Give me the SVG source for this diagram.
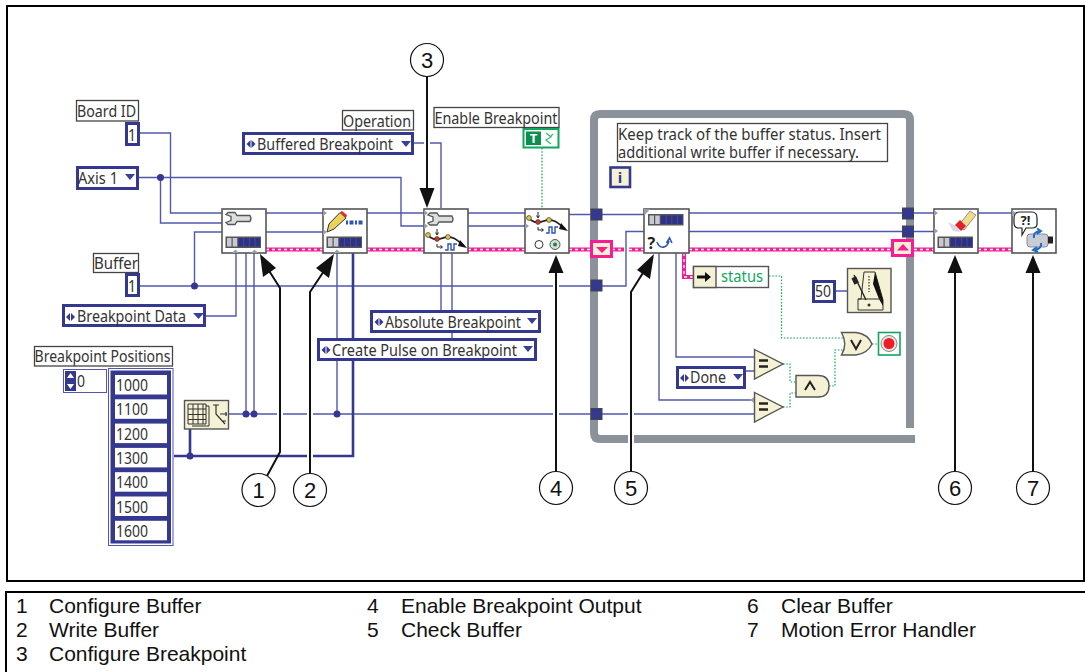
<svg xmlns="http://www.w3.org/2000/svg" xmlns:xlink="http://www.w3.org/1999/xlink" width="1085" height="672" viewBox="0 0 1085 672">
<style>
text{font-family:"Noto Sans","DejaVu Sans",sans-serif;fill:#333}
.lg{font-family:"Liberation Sans",Arial,sans-serif;font-size:21px;fill:#111}
.cn{font-family:"Liberation Sans",Arial,sans-serif;font-size:22px;fill:#111;text-anchor:middle}
.w{fill:none;stroke:#5158ac;stroke-width:1.4}
.t{fill:none;stroke:#34398f;stroke-width:2.6}
.p{fill:none;stroke:#f51c98;stroke-width:4}
.pd{fill:none;stroke:#fff;stroke-width:1.3;stroke-dasharray:3 3}
.g{fill:none;stroke:#12a860;stroke-width:1.2;stroke-dasharray:1.6 1.6}
.h{fill:none;stroke:#fff;stroke-width:6}
.a{fill:none;stroke:#111;stroke-width:2}
.ah{fill:#111}
.lb{fill:#fff;stroke:#444;stroke-width:1.3}
.en{fill:#fff;stroke:#34398f;stroke-width:3}
.n{fill:#fff;stroke:#555;stroke-width:1.6}
.c{fill:#f4f1d4;stroke:#555;stroke-width:1.4}
.jn{fill:#34398f}
.tn{fill:#34398f;stroke:#444;stroke-width:1}
.ci{fill:#fff;stroke:#111;stroke-width:1.2}
.tm{fill:#9a9da5}
.ed{fill:#3a3f9a}
.s{font-size:16px}
</style>
<defs>
<g id="bar"><rect x="0" y="0" width="35.500" height="11.500" fill="#555"/><rect x="1.500" y="1.500" width="4.500" height="8.500" fill="#c8cad0"/><rect x="7.200" y="1.500" width="4.500" height="8.500" fill="#c8cad0"/><rect x="12.900" y="1.500" width="4.800" height="8.500" fill="#2c3190"/><rect x="18.600" y="1.500" width="4.800" height="8.500" fill="#2c3190"/><rect x="24.300" y="1.500" width="4.800" height="8.500" fill="#2c3190"/><rect x="30" y="1.500" width="4.500" height="8.500" fill="#2c3190"/></g>
<g id="wrench"><path d="M3 0H10L12 3H25Q27 6 25 9H12L10 12H3L1 10L6 8V4L1 2Z" fill="#dcdde0" stroke="#555" stroke-width="1.300"/></g>
<g id="path"><path d="M1 2C7 10 14 7 20 5C28 4 32 9 38 14" fill="none" stroke="#222" stroke-width="1.800"/><path d="M34 8L41 16L32 14Z" fill="#111"/><circle cx="2" cy="3" r="2.400" fill="#e8c93c" stroke="#333" stroke-width=".7"/><circle cx="11" cy="7" r="2.400" fill="#d8342c" stroke="#333" stroke-width=".7"/><circle cx="22" cy="5" r="2.400" fill="#e8c93c" stroke="#333" stroke-width=".7"/><path d="M11 -3V2M9.500 0.500L11 3L12.500 0.500" fill="none" stroke="#222" stroke-width="1"/><path d="M11 12V15H16M14.500 13.500L16.500 15L14.500 16.500" fill="none" stroke="#222" stroke-width="1"/><path d="M19 18H22V12H25V18H28V12H31" fill="none" stroke="#2e55b0" stroke-width="1.400"/></g>
<path id="ebtn" d="M0 4L4 0V8ZM5 0L9 4L5 8Z" fill="#34398f"/>
</defs>

<g id="frame">
<rect x="7" y="6" width="1077" height="575" fill="#fff" stroke="#000" stroke-width="2"/>
</g>

<g id="while-loop">
<path d="M910 428V120Q910 114 904 114H600Q594 114 594 120V433Q594 439 600 439H915" fill="none" stroke="#8b9299" stroke-width="8"/>
</g>

<g id="connectors">
<path class="w" d="M139 133H170.500V213H222M266 213H323M367 213H424M468 213H525M569 214.500H596"/>
<path class="w" d="M139 177.500H401V226H424M160.500 177.500V223H222M468 226H525"/>
<path class="w" d="M194.500 286V232H222M266 232H323"/>
<path class="w" d="M139 286H596"/>
<path class="w" d="M206 316H236V253M246 253V414M254 253V414M337 253V414"/>
<path class="w" d="M229 414H754"/>
<path class="w" d="M414 143H441V208M441 253V310M452 253V338"/>
<path class="t" d="M353 253V456H174M190 429V456"/>
<path class="w" d="M596 214.500H644M596 286H626V231.500H644M689 213H908M689 231.500H908M908 213H934M908 231.500H934M978 213H1012"/>
<path class="w" d="M659 253V400H754M676 253V357H754M746 371H754M836 291H847"/>
<path class="p" d="M266 249.500H323M367 249.500H424M468 249.500H525M569 249.500H590M612 249.500H624M629 249.500H644M689 249.500H892M914 249.500H934M978 249.500H1012M684 253V277H693"/>
<path class="pd" d="M266 249.500H323M367 249.500H424M468 249.500H525M569 249.500H590M612 249.500H624M629 249.500H644M689 249.500H892M914 249.500H934M978 249.500H1012M684 253V277H693"/>
<path class="g" d="M542 148V208M769 276H781.500V338H845M783 364H790V382H796M783 407H790V393H796M829 386H835V350H845M872 344H878"/>
<path class="h" d="M427 76V188M631 292V472M556 273V472"/>
<path class="h" d="M280 288V452M310 292V473"/>
<circle class="jn" cx="160.500" cy="177.500" r="3.500"/>
<circle class="jn" cx="194.500" cy="286" r="3.500"/>
<circle class="jn" cx="246" cy="414" r="3.500"/>
<circle class="jn" cx="254" cy="414" r="3.500"/>
<circle class="jn" cx="337" cy="414" r="3.500"/>
<circle class="jn" cx="190" cy="456" r="3.500"/>
</g>

<g id="tunnels">
<rect class="tn" x="591" y="209" width="11" height="11"/>
<rect class="tn" x="591" y="280" width="11" height="11"/>
<rect class="tn" x="591" y="408.500" width="11" height="11"/>
<rect class="tn" x="902.500" y="208" width="11" height="11"/>
<rect class="tn" x="902.500" y="226" width="11" height="11"/>
<rect x="591.500" y="241.500" width="20" height="15" fill="#f6f0d0" stroke="#f51c98" stroke-width="3"/>
<path d="M596 247H608L602 253Z" fill="#f51c98"/>
<rect x="892.500" y="240.500" width="20" height="15" fill="#f6f0d0" stroke="#f51c98" stroke-width="3"/>
<path d="M897 250.500H909L903 244Z" fill="#f51c98"/>
</g>

<g id="board-id"><rect class="lb" x="76.500" y="100.500" width="62" height="20.500"/><text class="s" x="77" y="117" textLength="59" lengthAdjust="spacingAndGlyphs">Board ID</text><rect class="en" x="126.500" y="123.500" width="12" height="21"/><text class="s" x="128" y="141" textLength="8" lengthAdjust="spacingAndGlyphs">1</text></g>
<g id="axis"><rect class="en" x="77.500" y="167.500" width="60" height="21"/><text class="s" x="78" y="184" textLength="40" lengthAdjust="spacingAndGlyphs">Axis 1</text><path class="ed" d="M125 174H135L130 180Z"/></g>
<g id="buffer"><rect class="lb" x="93.500" y="253.500" width="45" height="19"/><text class="s" x="94" y="269" textLength="44" lengthAdjust="spacingAndGlyphs">Buffer</text><rect class="en" x="126.500" y="274.500" width="12" height="21"/><text class="s" x="128" y="292" textLength="8" lengthAdjust="spacingAndGlyphs">1</text></g>
<g id="breakpoint-data"><rect class="en" x="63.500" y="305.500" width="141" height="20"/><use href="#ebtn" x="66" y="313"/><text class="s" x="77" y="322" textLength="109" lengthAdjust="spacingAndGlyphs">Breakpoint Data</text><path class="ed" d="M193 313H204L198.500 319Z"/></g>
<g id="breakpoint-positions">
<rect class="lb" x="34.500" y="346.500" width="138" height="19.500"/><text class="s" x="34.500" y="362" textLength="136" lengthAdjust="spacingAndGlyphs">Breakpoint Positions</text>
<rect x="63.500" y="369.500" width="43" height="23" fill="#fff" stroke="#5158ac"/>
<rect x="65" y="371" width="11" height="20" fill="#34398f"/>
<path d="M70.500 373L74 378H67ZM70.500 389L74 384H67Z" fill="#fff"/>
<text class="s" x="77" y="387" textLength="8" lengthAdjust="spacingAndGlyphs">0</text>
<rect x="108.500" y="368.500" width="64.500" height="177" fill="#fff" stroke="#5158ac"/>
<rect x="110.500" y="370.500" width="60.500" height="173" fill="#34398f"/>
<rect x="115" y="375" width="52" height="19.500" fill="#fff"/><text class="s" x="116" y="391" textLength="32" lengthAdjust="spacingAndGlyphs">1000</text>
<rect x="115" y="399.300" width="52" height="19.500" fill="#fff"/><text class="s" x="116" y="415.300" textLength="32" lengthAdjust="spacingAndGlyphs">1100</text>
<rect x="115" y="423.600" width="52" height="19.500" fill="#fff"/><text class="s" x="116" y="439.600" textLength="32" lengthAdjust="spacingAndGlyphs">1200</text>
<rect x="115" y="447.900" width="52" height="19.500" fill="#fff"/><text class="s" x="116" y="463.900" textLength="32" lengthAdjust="spacingAndGlyphs">1300</text>
<rect x="115" y="472.200" width="52" height="19.500" fill="#fff"/><text class="s" x="116" y="488.200" textLength="32" lengthAdjust="spacingAndGlyphs">1400</text>
<rect x="115" y="496.500" width="52" height="19.500" fill="#fff"/><text class="s" x="116" y="512.500" textLength="32" lengthAdjust="spacingAndGlyphs">1500</text>
<rect x="115" y="520.800" width="52" height="19.500" fill="#fff"/><text class="s" x="116" y="536.800" textLength="32" lengthAdjust="spacingAndGlyphs">1600</text>
</g>
<g id="reshape"><rect class="c" x="184.500" y="400.500" width="44" height="28.500"/>
<path d="M188 404H206V424H188ZM188 409H206M188 414.500H206M188 419.500H206M193 404V424M198 404V424M203 404V424" fill="#f4f1d4" stroke="#333" stroke-width="1"/><path d="M206 406H209V426H192" fill="none" stroke="#333"/>
<path d="M213 405H219M216 405V414L225 424M220 414H227M226 412V416M222 421H226" fill="none" stroke="#333" stroke-width="1.200"/></g>

<g id="operation"><rect class="lb" x="342.500" y="110.500" width="71" height="19.500"/><text class="s" x="343" y="127" textLength="68" lengthAdjust="spacingAndGlyphs">Operation</text><rect class="en" x="243.500" y="133.500" width="169" height="20"/><use href="#ebtn" x="246.500" y="140"/><text class="s" x="257" y="150" textLength="136" lengthAdjust="spacingAndGlyphs">Buffered Breakpoint</text><path class="ed" d="M401 141H411L406 147Z"/></g>
<g id="enable-breakpoint"><rect class="lb" x="434" y="107.500" width="125" height="20"/><text class="s" x="434.500" y="124" textLength="123" lengthAdjust="spacingAndGlyphs">Enable Breakpoint</text><rect x="523.500" y="129" width="35" height="18.500" fill="#fff" stroke="#0da85c" stroke-width="2"/><rect x="526" y="131.500" width="15" height="13.500" fill="#0c8e4e"/><text x="533.500" y="143" font-size="13" font-weight="700" text-anchor="middle" style="fill:#fff">T</text><path d="M546 133L551 137L546 140L551 144M553 134L550 137" fill="none" stroke="#3cb878" stroke-width="1.200"/></g>
<g id="absolute-breakpoint"><rect class="en" x="371.500" y="311.500" width="168" height="20"/><use href="#ebtn" x="374.500" y="318"/><text class="s" x="385" y="328" textLength="136" lengthAdjust="spacingAndGlyphs">Absolute Breakpoint</text><path class="ed" d="M527 318H537L532 324Z"/></g>
<g id="create-pulse"><rect class="en" x="318.500" y="339.500" width="217" height="20"/><use href="#ebtn" x="321.500" y="346"/><text class="s" x="332" y="356" textLength="185" lengthAdjust="spacingAndGlyphs">Create Pulse on Breakpoint</text><path class="ed" d="M523 346H533L528 352Z"/></g>

<g id="configure-buffer"><rect class="n" x="222" y="209" width="44" height="44"/><use href="#wrench" x="225" y="212.500"/><use href="#bar" x="225.500" y="236.500"/><path class="tm" d="M232 253L235.500 249.500L239 253ZM251 253L254.500 249.500L258 253Z"/></g>
<g id="write-buffer"><rect class="n" x="323" y="209" width="44" height="44"/><path d="M327 232L329 224L340 212.500L346 218L334 229Z" fill="#ecd25a" stroke="#333"/><path d="M340 212.500L342 211L347 215L346 218Z" fill="#d8342c"/><path d="M346 220.500h2v4h-2zM349.500 220.500h4v4h-4zM355 220.500h2v4h-2zM358.500 220.500h4v4h-4z" fill="#2e55b0"/><use href="#bar" x="326.500" y="236.500"/><path class="tm" d="M323 210L327 213L323 216ZM323 229L327 232L323 235ZM333.500 253L337 249.500L340.500 253Z"/></g>
<g id="configure-breakpoint"><rect class="n" x="424" y="209" width="44" height="44"/><use href="#wrench" x="427" y="213"/><use href="#path" transform="translate(426,232)"/><path class="tm" d="M424 210L428 213L424 216ZM424 223L428 226L424 229Z"/></g>
<g id="enable-breakpoint-output"><rect class="n" x="525" y="209" width="44" height="44"/><use href="#path" transform="translate(527,215)"/><circle cx="539" cy="244.500" r="4" fill="#fff" stroke="#333"/><circle cx="555" cy="244.500" r="5" fill="#cfe3d6" stroke="#555"/><circle cx="555" cy="244.500" r="2" fill="#2f7a55"/><path class="tm" d="M525 223L529 226L525 229Z"/></g>
<g id="check-buffer"><rect class="n" x="644" y="209" width="45" height="44"/><use href="#bar" x="648" y="214"/><text x="647.500" y="249" font-size="16" font-weight="700" style="fill:#222">?</text><path d="M657 242C660 250 667 248 669 241M666.500 243L669.500 238L672 243" fill="none" stroke="#2e55b0" stroke-width="1.600"/><path class="tm" d="M644 209L650 209L644 216Z"/></g>
<g id="unbundle-status"><rect x="693.500" y="266.500" width="75" height="21" fill="#fff" stroke="#555" stroke-width="1.400"/><rect x="693.500" y="266.500" width="22.500" height="21" fill="#f4f1d4" stroke="#555" stroke-width="1.400"/><path d="M697 275.500H705V272L711 277L705 282V278.500H697Z" fill="#111"/><text class="s" x="721" y="282" textLength="42" lengthAdjust="spacingAndGlyphs" style="fill:#12a860">status</text></g>
<g id="comment"><rect x="617.500" y="123.500" width="270" height="38" fill="#fff" stroke="#444" stroke-width="1.300"/><text class="s" x="618" y="140" textLength="263" lengthAdjust="spacingAndGlyphs">Keep track of the buffer status. Insert</text><text class="s" x="618" y="158" textLength="241" lengthAdjust="spacingAndGlyphs">additional write buffer if necessary.</text></g>
<g id="iteration"><rect x="610.500" y="167.500" width="19.500" height="19.500" fill="#f4f1d4" stroke="#34398f" stroke-width="2.600"/><text x="620" y="183" font-size="15" font-weight="700" text-anchor="middle" style="fill:#34398f">i</text></g>
<g id="wait"><rect class="en" x="813.500" y="281.500" width="21" height="20"/><text class="s" x="815" y="297" textLength="16" lengthAdjust="spacingAndGlyphs">50</text><rect class="c" x="847.500" y="268.500" width="43.500" height="44"/>
<path d="M864 272H875L883 300V310H858V299H861Z" fill="#f7f3d8" stroke="#333"/>
<path d="M875 272L883 300V306L879 299L873 284Z" fill="#111"/>
<path d="M858 299H881" stroke="#333"/>
<path d="M854 275L866 300" stroke="#222" stroke-width="1.400"/>
<rect x="852.500" y="277" width="5" height="7" fill="#222" transform="rotate(-25 855 280)"/>
<path d="M869 276V292" stroke="#555" stroke-width="1.500" stroke-dasharray="1.500 1.500"/>
<circle cx="869" cy="305" r="1.500" fill="#333"/></g>
<g id="done"><rect class="en" x="677.500" y="367.500" width="67" height="20"/><use href="#ebtn" x="680" y="374"/><text class="s" x="690" y="383" textLength="36" lengthAdjust="spacingAndGlyphs">Done</text><path class="ed" d="M733 374H743L738 380Z"/></g>
<g id="eq1"><path class="c" d="M754.500 349.500L783 364L754.500 379Z"/><path d="M759 360.500H768M759 366.500H768" stroke="#222" stroke-width="2.400"/></g>
<g id="eq2"><path class="c" d="M754.500 392.500L783 407L754.500 422Z"/><path d="M759 403.500H768M759 409.500H768" stroke="#222" stroke-width="2.400"/><path class="tm" d="M754 397L750 400L754 403Z"/></g>
<g id="and"><path class="c" d="M796 375.500H818Q829 375.500 829 386Q829 397 818 397H796Z"/><path d="M805 390L810 382L815 390" fill="none" stroke="#222" stroke-width="2"/></g>
<g id="or"><path class="c" d="M841.500 332.500H856Q868 334 872 344Q868 353 856 355H841.500Q848 344 841.500 332.500Z"/><path d="M851 340L856 349L861 340" fill="none" stroke="#222" stroke-width="2"/></g>
<g id="stop"><rect x="878.500" y="332.500" width="21.500" height="22.500" fill="#fff" stroke="#0da85c" stroke-width="1.600"/><circle cx="889" cy="343.500" r="8" fill="#e6e6e2" stroke="#888"/><circle cx="889" cy="343.500" r="5.500" fill="#ee1c25"/></g>
<g id="clear-buffer"><rect class="n" x="934" y="209" width="44" height="44"/><path d="M948 222L953 231L960 232L956 226Z" fill="#d9dade"/><path d="M958 226L970 211L976 215L964 230Z" fill="#f0dc8c" stroke="#777" stroke-width=".8"/><path d="M955 225L960 220L966 226L961 231Z" fill="#e0202c"/><use href="#bar" x="937.500" y="236.500"/><path class="tm" d="M934 210L938 213L934 216ZM934 228L938 231L934 234Z"/></g>
<g id="error-handler"><rect class="n" x="1012" y="209" width="44" height="44"/><path d="M1020 212H1032Q1037 212 1037 218V224Q1037 228 1032 228H1026L1022 235L1022 228H1019Q1014 228 1014 223V218Q1014 212 1020 212Z" fill="#fff" stroke="#222" stroke-width="1.200"/><text x="1025.500" y="225" font-size="13" font-weight="700" text-anchor="middle" style="fill:#222">?!</text><rect x="1027" y="234" width="21" height="13" rx="3" fill="#c9ccd4" stroke="#777" stroke-width=".8"/><rect x="1048" y="236.500" width="5" height="7" fill="#222"/><path d="M1034 238C1033 233 1037 231 1040 231M1037 228.500L1041 231L1037 234M1041 243C1042 248 1037 250 1034 250M1038 252L1033 250L1037 247" fill="none" stroke="#1f6fc4" stroke-width="2"/><path class="tm" d="M1012 210L1016 213L1012 216Z"/></g>

<g id="callouts">
<path class="a" d="M427 76V190"/><path class="ah" d="M419.500 188H434.500L427 208Z"/>
<path class="a" d="M267 476L280 452V288L266 266"/><path class="ah" d="M260 254L276 268L263 277Z"/>
<path class="a" d="M310 473V292L326 268"/><path class="ah" d="M334 254L329 278L316 268Z"/>
<path class="a" d="M556 471V272"/><path class="ah" d="M548.500 273H563.500L556 255Z"/>
<path class="a" d="M631 471V292L646 268"/><path class="ah" d="M654 254L650 279L637 270Z"/>
<path class="a" d="M955 471V272"/><path class="ah" d="M947.500 273H962.500L955 255Z"/>
<path class="a" d="M1033 471V272"/><path class="ah" d="M1025.500 273H1040.500L1033 255Z"/>
</g>
<g id="c3"><circle class="ci" cx="427" cy="60" r="16.500"/><text class="cn" x="427" y="68">3</text></g>
<g id="c1"><circle class="ci" cx="258.500" cy="490" r="16.500"/><text class="cn" x="258.500" y="498">1</text></g>
<g id="c2"><circle class="ci" cx="310" cy="490" r="16.500"/><text class="cn" x="310" y="498">2</text></g>
<g id="c4"><circle class="ci" cx="556" cy="488" r="16.500"/><text class="cn" x="556" y="496">4</text></g>
<g id="c5"><circle class="ci" cx="631" cy="488" r="16.500"/><text class="cn" x="631" y="496">5</text></g>
<g id="c6"><circle class="ci" cx="955" cy="488" r="16.500"/><text class="cn" x="955" y="496">6</text></g>
<g id="c7"><circle class="ci" cx="1033" cy="488" r="16.500"/><text class="cn" x="1033" y="496">7</text></g>

<g id="legend">
<path d="M1085 592H6V672" fill="none" stroke="#000" stroke-width="2"/>
<text class="lg" x="16" y="613">1</text><text class="lg" x="49" y="613">Configure Buffer</text>
<text class="lg" x="16" y="637">2</text><text class="lg" x="49" y="637">Write Buffer</text>
<text class="lg" x="16" y="661">3</text><text class="lg" x="49" y="661">Configure Breakpoint</text>
<text class="lg" x="367" y="613">4</text><text class="lg" x="401" y="613">Enable Breakpoint Output</text>
<text class="lg" x="367" y="637">5</text><text class="lg" x="401" y="637">Check Buffer</text>
<text class="lg" x="747" y="613">6</text><text class="lg" x="781" y="613">Clear Buffer</text>
<text class="lg" x="747" y="637">7</text><text class="lg" x="781" y="637">Motion Error Handler</text>
</g>
</svg>
